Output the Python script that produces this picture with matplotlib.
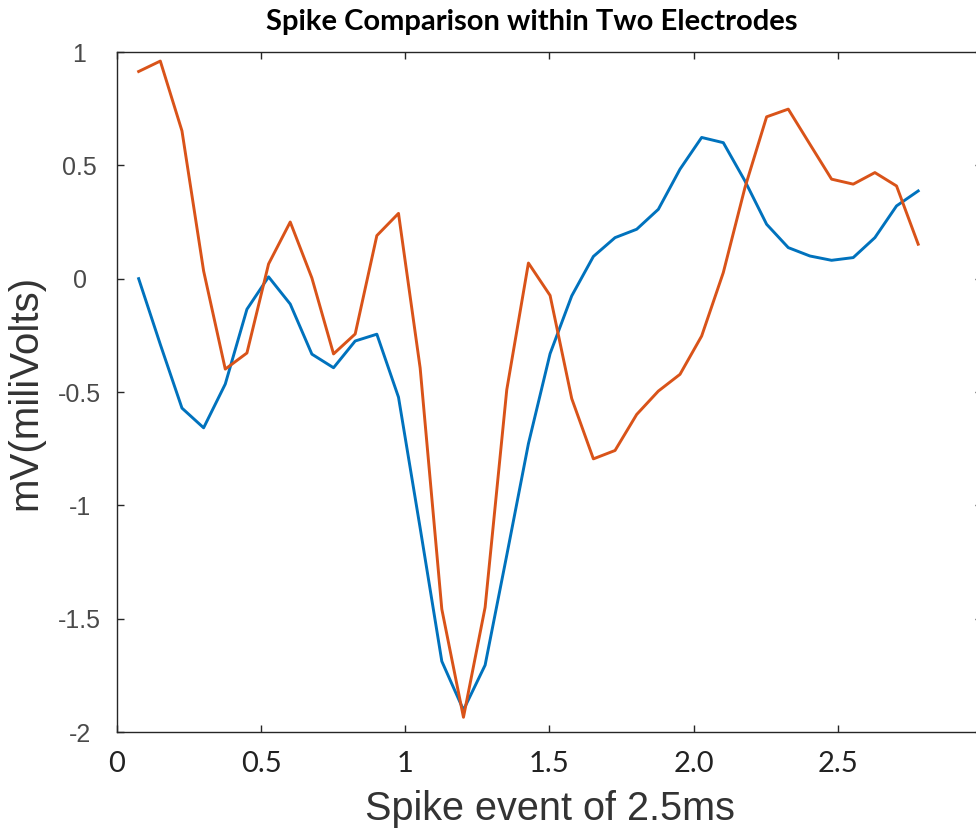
import numpy as np
import matplotlib.pyplot as plt

# sample times (ms), 37 samples
dt = 0.0751
t = np.arange(1, 38) * dt

electrode1 = [0.0, -0.29, -0.571, -0.658, -0.465, -0.135, 0.008, -0.112, -0.333, -0.393,
              -0.275, -0.245, -0.523, -1.10, -1.688, -1.903, -1.705, -1.22, -0.728, -0.331,
              -0.076, 0.098, 0.181, 0.218, 0.306, 0.483, 0.623, 0.60, 0.431, 0.24,
              0.137, 0.10, 0.081, 0.093, 0.181, 0.321, 0.387]
electrode2 = [0.914, 0.96, 0.652, 0.034, -0.399, -0.328, 0.065, 0.25, 0.003, -0.332,
              -0.244, 0.19, 0.288, -0.394, -1.458, -1.935, -1.45, -0.49, 0.069, -0.074,
              -0.529, -0.795, -0.758, -0.599, -0.496, -0.422, -0.253, 0.027, 0.402, 0.714,
              0.748, 0.593, 0.439, 0.417, 0.468, 0.409, 0.152]

xticks = [0, 0.5, 1, 1.5, 2.0, 2.5]
xticklabels = ['0', '0.5', '1', '1.5', '2.0', '2.5']
yticks = [-2, -1.5, -1, -0.5, 0, 0.5, 1]
yticklabels = ['-2', '-1.5', '-1', '-0.5', '0', '0.5', '1']

fig = plt.figure(figsize=(9.76, 8.31), dpi=100)
ax = fig.add_axes([117/976, 99/831, 865/976, 680/831])

ax.plot(t, electrode1, color='#0072BD', lw=2.1)
ax.plot(t, electrode2, color='#D95319', lw=2.1)

ax.set_xlim(0, 3)
ax.set_ylim(-2, 1)

for s in ax.spines.values():
    s.set_color('#262626')
    s.set_linewidth(1.0)

ax.tick_params(direction='in', length=5, width=1, color='#262626',
               top=True, right=True)
ax.set_xticks(xticks)
ax.set_xticklabels(xticklabels, fontfamily='Lato', fontsize=21, color='#222222')
ax.set_yticks(yticks)
ax.set_yticklabels(yticklabels, fontfamily='Liberation Sans', fontsize=18,
                   color='#4a4a4a', ha='center')
ax.tick_params(axis='x', pad=14)
ax.tick_params(axis='y', pad=27)

ax.set_xlabel('Spike event of 2.5ms', fontfamily='Liberation Sans', fontsize=28.5,
              color='#333333', labelpad=9)
ax.set_ylabel('mV(miliVolts)', fontfamily='Liberation Sans', fontsize=29,
              color='#333333', labelpad=10)
fig.text(532/976, 1 - 22/831, 'Spike Comparison within Two Electrodes',
         fontfamily='Lato', fontweight='bold', fontsize=21, ha='center', va='center')

fig.savefig('out.png', dpi=100)
